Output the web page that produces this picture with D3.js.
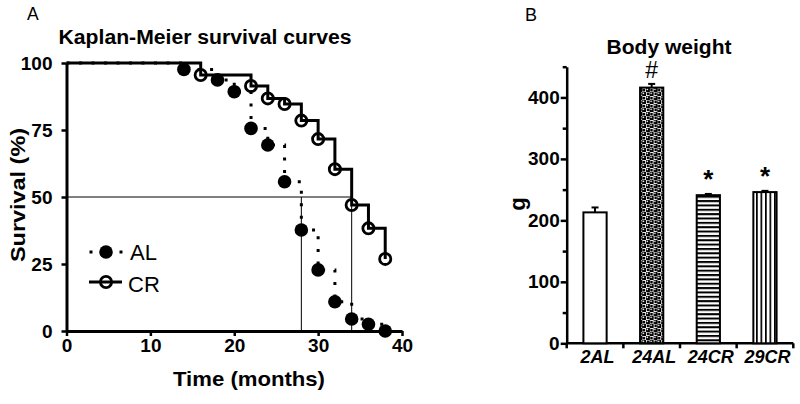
<!DOCTYPE html>
<html>
<head>
<meta charset="utf-8">
<script src="https://cdn.jsdelivr.net/npm/d3@7/dist/d3.min.js"></script>
<style>
  body { margin: 0; background: #fff; }
  svg text { font-family: "Liberation Sans", Arial, sans-serif; fill: #000; }
</style>
</head>
<body>
<svg id="chart" width="800" height="404"></svg>
<script>
// Panel A: Kaplan-Meier survival, months vs % alive
const alMonths = [14, 18, 20, 22, 24, 26, 28, 30, 32, 34, 36, 38];
const alSurvival = [97.6, 93.7, 89.3, 75.6, 69.4, 55.7, 37.7, 22.8, 10.9, 4.5, 2.5, 0];
const crMonths = [16, 22, 24, 26, 28, 30, 32, 34, 36, 38];
const crSurvival = [95.5, 91.4, 86.8, 84.7, 78.5, 71.6, 60.4, 47.0, 38.3, 26.9];
const survTicks = [0, 25, 50, 75, 100];
const timeTicks = [0, 10, 20, 30, 40];

// Panel B: body weight (g)
const groups = ["2AL", "24AL", "24CR", "29CR"];
const weightMean = [213, 416, 241, 246];
const weightSem = [8, 6, 2, 2];
const weightMarks = ["", "#", "*", "*"];
const weightTicks = [0, 100, 200, 300, 400];
const weightMinorTicks = [50, 150, 250, 350, 450];
const fills = ["#fff", "url(#balls)", "url(#hstripe)", "url(#vstripe)"];

const svg = d3.select("#chart");
const defs = svg.append("defs");

// bar fill patterns
const hs = defs.append("pattern").attr("id", "hstripe")
  .attr("patternUnits", "userSpaceOnUse").attr("width", 8).attr("height", 4.35);
hs.append("rect").attr("width", 8).attr("height", 4.35).attr("fill", "#fff");
hs.append("rect").attr("y", 0).attr("width", 8).attr("height", 2).attr("fill", "#000");

const vs = defs.append("pattern").attr("id", "vstripe")
  .attr("patternUnits", "userSpaceOnUse").attr("width", 4.5).attr("height", 8);
vs.append("rect").attr("width", 4.5).attr("height", 8).attr("fill", "#fff");
vs.append("rect").attr("x", 0).attr("width", 1.7).attr("height", 8).attr("fill", "#000");

const bp = defs.append("pattern").attr("id", "balls")
  .attr("patternUnits", "userSpaceOnUse").attr("width", 7.6).attr("height", 8);
bp.append("rect").attr("width", 7.6).attr("height", 8).attr("fill", "#fff");
[[1.9, 2], [5.7, 6]].forEach(([cx, cy]) => {
  bp.append("circle").attr("cx", cx).attr("cy", cy).attr("r", 2.5).attr("fill", "#000");
  bp.append("circle").attr("cx", cx - 0.6).attr("cy", cy - 0.6).attr("r", 0.8).attr("fill", "#fff");
});
[[5.7, 2], [1.9, 6]].forEach(([cx, cy]) => {
  bp.append("rect").attr("x", cx - 1.1).attr("y", cy - 1.1).attr("width", 2.2).attr("height", 2.2).attr("fill", "#000");
});

// ---------- Panel A ----------
const x = d3.scaleLinear().domain([0, 40]).range([66.5, 402]);
const y = d3.scaleLinear().domain([0, 100]).range([331, 63]);

const gA = svg.append("g");

function styleAxis(g, width) {
  g.select(".domain").attr("stroke-width", width);
  g.selectAll(".tick line").attr("stroke-width", 2.5);
  g.selectAll(".tick text").attr("font-size", 19).attr("font-weight", "bold");
}

gA.append("g").attr("transform", `translate(0,${y(0)})`)
  .call(d3.axisBottom(x).tickValues(timeTicks).tickSize(5).tickSizeOuter(0).tickPadding(3))
  .call(g => styleAxis(g, 3));

gA.append("g").attr("transform", `translate(${x(0)},0)`)
  .call(d3.axisLeft(y).tickValues(survTicks).tickSize(5).tickSizeOuter(0).tickPadding(9))
  .call(g => styleAxis(g, 3));

// median lines
function median(months, surv) {
  const i = surv.findIndex(s => s <= 50);
  return months[i];
}
const alMed = median(alMonths, alSurvival);
const crMed = median(crMonths, crSurvival);
gA.append("line").attr("x1", x(0)).attr("x2", x(crMed)).attr("y1", y(50)).attr("y2", y(50))
  .attr("stroke", "#000").attr("stroke-width", 1);
[alMed, crMed].forEach(m => {
  gA.append("line").attr("x1", x(m)).attr("x2", x(m)).attr("y1", y(50)).attr("y2", y(0))
    .attr("stroke", "#000").attr("stroke-width", 1);
});

const step = d3.line().x(d => x(d[0])).y(d => y(d[1])).curve(d3.curveStepAfter);
const alPts = [[0, 100]].concat(alMonths.map((m, i) => [m, alSurvival[i]]));
const crPts = [[0, 100]].concat(crMonths.map((m, i) => [m, crSurvival[i]]));

gA.append("path").attr("d", step(crPts)).attr("fill", "none")
  .attr("stroke", "#000").attr("stroke-width", 3);
gA.append("path").attr("d", step(alPts)).attr("fill", "none")
  .attr("stroke", "#000").attr("stroke-width", 3).attr("stroke-dasharray", "3,9.5");

gA.selectAll("circle.cr").data(crPts.slice(1)).join("circle").attr("class", "cr")
  .attr("cx", d => x(d[0])).attr("cy", d => y(d[1])).attr("r", 5.6)
  .attr("fill", "none").attr("stroke", "#000").attr("stroke-width", 2.8);
gA.selectAll("circle.al").data(alPts.slice(1)).join("circle").attr("class", "al")
  .attr("cx", d => x(d[0])).attr("cy", d => y(d[1])).attr("r", 6.8).attr("fill", "#000");

// legend
const leg = gA.append("g");
leg.append("line").attr("x1", 89.5).attr("x2", 122.5).attr("y1", 252).attr("y2", 252)
  .attr("stroke", "#000").attr("stroke-width", 3).attr("stroke-dasharray", "3,12");
leg.append("circle").attr("cx", 106).attr("cy", 252).attr("r", 6.8).attr("fill", "#000");
leg.append("text").attr("x", 130).attr("y", 260).attr("font-size", 22).text("AL");
leg.append("line").attr("x1", 89).attr("x2", 122).attr("y1", 282).attr("y2", 282)
  .attr("stroke", "#000").attr("stroke-width", 3);
leg.append("circle").attr("cx", 106).attr("cy", 282).attr("r", 5.6)
  .attr("fill", "none").attr("stroke", "#000").attr("stroke-width", 2.8);
leg.append("text").attr("x", 128).attr("y", 291.5).attr("font-size", 22).text("CR");

// labels
svg.append("text").attr("x", 27).attr("y", 20).attr("font-size", 17.5).text("A");
svg.append("text").attr("x", 58.5).attr("y", 43.5).attr("font-size", 20).attr("font-weight", "bold")
  .attr("textLength", 293).attr("lengthAdjust", "spacingAndGlyphs").text("Kaplan-Meier survival curves");
svg.append("text").attr("x", 249).attr("y", 386).attr("text-anchor", "middle")
  .attr("font-size", 21).attr("font-weight", "bold")
  .attr("textLength", 152).attr("lengthAdjust", "spacingAndGlyphs").text("Time (months)");
svg.append("text").attr("transform", "translate(25,195) rotate(-90)").attr("text-anchor", "middle")
  .attr("font-size", 21).attr("font-weight", "bold")
  .attr("textLength", 134).attr("lengthAdjust", "spacingAndGlyphs").text("Survival (%)");

// ---------- Panel B ----------
const xb = d3.scaleBand().domain(groups).range([566.7, 793.3]).paddingInner(0.59).paddingOuter(0.295);
const yb = d3.scaleLinear().domain([0, 450]).range([343.3, 66.7]);
const gB = svg.append("g");

gB.append("g").attr("transform", `translate(${xb.range()[0]},0)`)
  .call(d3.axisLeft(yb).tickValues(weightTicks).tickSize(6).tickSizeOuter(0).tickPadding(1))
  .call(g => styleAxis(g, 2.5));
gB.append("g").attr("transform", `translate(${xb.range()[0]},0)`)
  .call(d3.axisLeft(yb).tickValues(weightMinorTicks).tickSize(4).tickSizeOuter(0).tickFormat(""))
  .call(g => { g.select(".domain").remove(); g.selectAll(".tick line").attr("stroke-width", 2.5); });

// x axis with ticks at group boundaries
const stepB = xb.step();
const bounds = [xb(groups[0]) + xb.bandwidth() / 2 - stepB / 2]
  .concat(groups.map(c => xb(c) + xb.bandwidth() / 2 + stepB / 2));
gB.append("line").attr("x1", xb.range()[0]).attr("x2", xb.range()[1])
  .attr("y1", yb(0)).attr("y2", yb(0)).attr("stroke", "#000").attr("stroke-width", 2.5);
gB.selectAll("line.bt").data(bounds).join("line").attr("class", "bt")
  .attr("x1", d => d).attr("x2", d => d).attr("y1", yb(0)).attr("y2", yb(0) + 5)
  .attr("stroke", "#000").attr("stroke-width", 2.5);
gB.selectAll("text.cat").data(groups).join("text").attr("class", "cat")
  .attr("x", d => xb(d) + xb.bandwidth() / 2 + 2.5).attr("y", 362.5)
  .attr("text-anchor", "middle").attr("font-size", 18).attr("font-weight", "bold")
  .attr("font-style", "italic").text(d => d);

// error bars
groups.forEach((g, i) => {
  const cx = xb(g) + xb.bandwidth() / 2;
  gB.append("line").attr("x1", cx).attr("x2", cx)
    .attr("y1", yb(weightMean[i])).attr("y2", yb(weightMean[i] + weightSem[i]))
    .attr("stroke", "#000").attr("stroke-width", 2);
  gB.append("line").attr("x1", cx - 3.5).attr("x2", cx + 3.5)
    .attr("y1", yb(weightMean[i] + weightSem[i])).attr("y2", yb(weightMean[i] + weightSem[i]))
    .attr("stroke", "#000").attr("stroke-width", 2);
});

gB.selectAll("rect.bar").data(groups).join("rect").attr("class", "bar")
  .attr("x", d => xb(d)).attr("width", xb.bandwidth())
  .attr("y", (d, i) => yb(weightMean[i])).attr("height", (d, i) => yb(0) - yb(weightMean[i]))
  .attr("fill", (d, i) => fills[i]).attr("stroke", "#000").attr("stroke-width", 2);

gB.selectAll("text.mark").data(groups).join("text").attr("class", "mark")
  .attr("x", d => xb(d) + xb.bandwidth() / 2)
  .attr("y", (d, i) => yb(weightMean[i] + weightSem[i]) - 6)
  .attr("text-anchor", "middle").attr("font-size", (d, i) => weightMarks[i] === "#" ? 23 : 26)
  .attr("font-weight", (d, i) => weightMarks[i] === "#" ? "normal" : "bold")
  .text((d, i) => weightMarks[i]);

svg.append("text").attr("x", 525).attr("y", 21).attr("font-size", 18).text("B");
svg.append("text").attr("x", 669).attr("y", 53.5).attr("text-anchor", "middle")
  .attr("font-size", 20.5).attr("font-weight", "bold")
  .attr("textLength", 125).attr("lengthAdjust", "spacingAndGlyphs").text("Body weight");
svg.append("text").attr("transform", "translate(525,204) rotate(-90)").attr("text-anchor", "middle")
  .attr("font-size", 22).attr("font-weight", "bold").text("g");
</script>
</body>
</html>
